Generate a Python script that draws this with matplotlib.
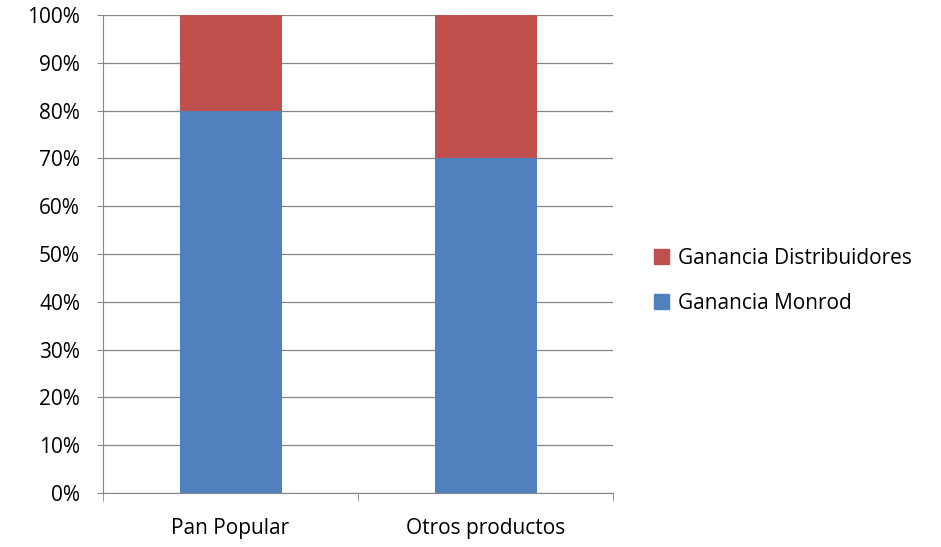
import matplotlib.pyplot as plt
from matplotlib.patches import Patch
from matplotlib.ticker import FixedLocator

plt.rcParams['font.family'] = ['Open Sans', 'DejaVu Sans']

categories = ['Pan Popular', 'Otros productos']
monrod = [80, 70]
distribuidores = [20, 30]

blue = '#4F81BD'
red = '#C0504D'

fig = plt.figure(figsize=(9.41, 5.47), dpi=100)
ax = fig.add_axes([0.1095, 0.0987, 0.5420, 0.8739])

x = range(len(categories))
ax.bar(x, monrod, width=0.4, color=blue, zorder=3)
ax.bar(x, distribuidores, width=0.4, bottom=monrod, color=red, zorder=3)

ax.set_xlim(-0.5, 1.5)
ax.set_ylim(0, 100)
ax.set_yticks(range(0, 101, 10))
ax.set_yticklabels([f'{v}%' for v in range(0, 101, 10)], fontsize=15)
ax.set_xticks(list(x))
ax.set_xticklabels(categories, fontsize=15)
ax.tick_params(axis='x', length=0, pad=18)
ax.xaxis.set_minor_locator(FixedLocator([-0.5, 0.5, 1.5]))
ax.tick_params(axis='x', which='minor', length=6, color='#868686')
ax.tick_params(axis='y', length=4.5, color='#868686', pad=12)

ax.grid(axis='y', color='#868686', linewidth=0.9, zorder=0)
for side in ['top', 'right']:
    ax.spines[side].set_visible(False)
ax.spines['left'].set_color('#868686')
ax.spines['bottom'].set_color('#868686')

handles = [Patch(color=red), Patch(color=blue)]
fig.legend(handles, ['Ganancia Distribuidores', 'Ganancia Monrod'],
           loc='center left', bbox_to_anchor=(0.675, 0.487), frameon=False,
           fontsize=15, handlelength=0.7, handleheight=0.7,
           handletextpad=0.45, labelspacing=1.15)

fig.savefig('out.png', dpi=100)
